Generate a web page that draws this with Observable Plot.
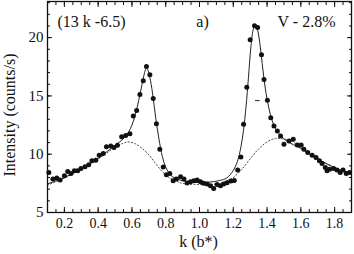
<!DOCTYPE html>
<html>
<head>
<meta charset="utf-8">
<script src="https://cdn.jsdelivr.net/npm/d3@7"></script>
<script src="https://cdn.jsdelivr.net/npm/@observablehq/plot@0.6"></script>
<style>
  html, body { margin: 0; padding: 0; background: #fff; }
  svg, svg text { font-family: "Liberation Serif", serif !important; }
</style>
</head>
<body>
<div id="chart"></div>
<script>
// Measured points: k (b*) and intensity (counts/s)
const kData = [0.108,0.132,0.155,0.175,0.200,0.220,0.239,0.259,0.279,0.298,0.322,0.344,0.363,0.386,0.406,0.430,0.449,0.475,0.494,0.514,0.539,0.563,0.588,0.608,0.628,0.647,0.667,0.686,0.706,0.726,0.745,0.765,0.785,0.804,0.824,0.844,0.863,0.888,0.908,0.927,0.947,0.967,0.986,1.006,1.025,1.045,1.065,1.084,1.104,1.124,1.143,1.163,1.186,1.206,1.226,1.245,1.261,1.280,1.300,1.326,1.344,1.367,1.382,1.402,1.422,1.441,1.461,1.480,1.500,1.530,1.555,1.579,1.602,1.618,1.641,1.667,1.690,1.710,1.726,1.745,1.755,1.770,1.794,1.814,1.833,1.850,1.869,1.888];
const iData = [8.44,7.87,7.96,7.79,8.15,8.52,8.35,8.58,8.58,8.78,8.92,9.09,9.43,9.49,9.92,10.06,10.63,10.71,10.57,10.77,11.50,11.60,11.75,13.27,13.76,15.12,16.31,17.53,16.82,14.78,12.61,10.43,8.90,8.24,8.35,7.73,7.87,8.07,7.87,7.53,7.64,7.73,7.78,7.64,7.50,7.45,7.30,7.05,7.40,7.30,7.45,7.55,7.70,7.75,8.64,9.77,12.56,15.74,19.81,21.03,20.86,18.53,16.40,14.63,13.12,12.42,11.99,11.56,10.86,11.14,11.28,10.80,10.80,10.43,10.14,9.92,9.71,9.43,9.20,8.86,8.58,8.72,8.78,8.64,8.44,8.64,8.35,8.44];

// Fitted curve (solid)
const kFit = [0.10,0.20,0.30,0.40,0.45,0.50,0.55,0.58,0.60,0.62,0.64,0.66,0.675,0.685,0.695,0.71,0.725,0.74,0.76,0.78,0.80,0.83,0.87,0.95,1.05,1.12,1.16,1.20,1.225,1.245,1.26,1.275,1.29,1.305,1.32,1.332,1.345,1.36,1.375,1.39,1.41,1.43,1.45,1.48,1.52,1.60,1.70,1.80,1.90];
const iFit = [7.45,8.0,8.75,9.65,10.2,10.75,11.35,11.9,12.5,13.4,14.6,16.0,17.0,17.4,17.2,16.3,14.9,13.2,11.3,9.8,8.9,8.2,7.85,7.6,7.6,7.75,7.95,8.6,9.4,10.6,12.0,14.0,16.6,19.3,20.8,21.1,20.6,19.2,17.3,15.6,14.0,12.9,12.2,11.6,11.1,10.5,9.6,8.85,8.35];

// Background (dotted)
const kBg = [0.10,0.20,0.30,0.40,0.45,0.50,0.55,0.58,0.62,0.66,0.70,0.74,0.78,0.82,0.86,0.90,1.00,1.10,1.16,1.20,1.25,1.30,1.35,1.40,1.45,1.50,1.55,1.60,1.70,1.80,1.90];
const iBg = [7.35,7.95,8.7,9.6,10.1,10.6,10.95,11.05,10.9,10.5,9.95,9.2,8.5,8.0,7.7,7.5,7.4,7.45,7.7,8.0,8.7,9.6,10.45,11.05,11.35,11.3,11.1,10.5,9.6,8.85,8.35];

// small dash mark inside the right peak
const dashK = [1.332, 1.359];
const dashI = [14.6];

// ticks
const xTickLabels = [0.2,0.4,0.6,0.8,1.0,1.2,1.4,1.6,1.8];
const yTickLabels = [5,10,15,20];
const xMinor = d3.range(0.1, 1.9001, 0.05);
const yMinor = d3.range(5, 23.01, 1);

const points = kData.map((k, i) => ({k, v: iData[i]}));
const fit = kFit.map((k, i) => ({k, v: iFit[i]}));
const bg = kBg.map((k, i) => ({k, v: iBg[i]}));

const ink = "#111";
const serif = "Liberation Serif";

const chart = Plot.plot({
  width: 354,
  height: 254,
  marginLeft: 47,
  marginRight: 3,
  marginTop: 1,
  marginBottom: 42,
  x: {domain: [0.1, 1.9], axis: null},
  y: {domain: [5, 23.1], axis: null},
  style: {fontFamily: serif, fontSize: "14px", color: ink, background: "#fff"},
  marks: [
    Plot.line(bg, {x: "k", y: "v", curve: "catmull-rom", stroke: "#444", strokeWidth: 1, strokeDasharray: "1.2,2.2"}),
    Plot.line(fit, {x: "k", y: "v", curve: "catmull-rom", stroke: "#222", strokeWidth: 1}),
    Plot.ruleY(dashI, {x1: dashK[0], x2: dashK[1], stroke: "#222", strokeWidth: 1}),
    Plot.dot(points, {x: "k", y: "v", r: 2.5, fill: ink, stroke: "none"}),
    Plot.frame({stroke: ink, strokeWidth: 1.3}),
    Plot.axisX(xMinor, {anchor: "bottom", tickSize: -3, fill: "none", stroke: ink}),
    Plot.axisX(xTickLabels, {anchor: "bottom", tickSize: -5, fill: "none", stroke: ink}),
    Plot.axisX(xMinor, {anchor: "top", tickSize: -3, fill: "none", stroke: ink}),
    Plot.axisX(xTickLabels, {anchor: "top", tickSize: -5, fill: "none", stroke: ink}),
    Plot.axisY(yMinor, {anchor: "left", tickSize: -3, fill: "none", stroke: ink}),
    Plot.axisY(yTickLabels, {anchor: "left", tickSize: -5, fill: "none", stroke: ink}),
    Plot.axisY(yMinor, {anchor: "right", tickSize: -3, fill: "none", stroke: ink}),
    Plot.axisY(yTickLabels, {anchor: "right", tickSize: -5, fill: "none", stroke: ink}),
    Plot.axisX(xTickLabels, {anchor: "bottom", tickSize: 0, tickPadding: 6, tickFormat: d => d.toFixed(1), fontSize: 14, fontFamily: serif, label: null, fill: ink}),
    Plot.axisY(yTickLabels, {anchor: "left", tickSize: 0, tickPadding: 4, fontSize: 15, fontFamily: serif, label: null, fill: ink}),
    Plot.text(["k (b*)"], {frameAnchor: "bottom", textAnchor: "middle", dx: -1, dy: 29, lineAnchor: "middle", fontSize: 16, fontFamily: serif, fill: ink}),
    Plot.text(["Intensity (counts/s)"], {frameAnchor: "left", textAnchor: "middle", lineAnchor: "middle", dx: -38, dy: 8, rotate: -90, fontSize: 16, fontFamily: serif, fill: ink}),
    Plot.text(["(13 k -6.5)"], {frameAnchor: "top-left", textAnchor: "start", dx: 10, dy: 20, lineAnchor: "middle", fontSize: 16, fontFamily: serif, fill: ink}),
    Plot.text(["a)"], {frameAnchor: "top", textAnchor: "middle", dx: 3, dy: 20, lineAnchor: "middle", fontSize: 16, fontFamily: serif, fill: ink}),
    Plot.text(["V - 2.8%"], {frameAnchor: "top-right", textAnchor: "end", dx: -16, dy: 20, lineAnchor: "middle", fontSize: 16, fontFamily: serif, fill: ink})
  ]
});
document.getElementById("chart").appendChild(chart);
</script>
</body>
</html>
